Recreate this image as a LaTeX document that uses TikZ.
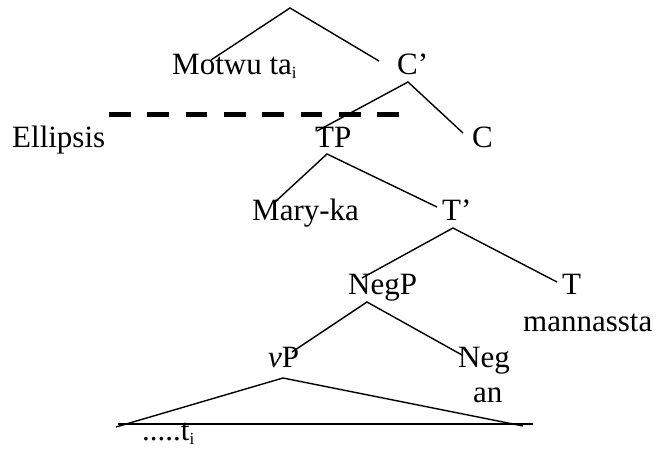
\documentclass[tikz,border=0pt]{standalone}
\usepackage{fontspec}
\setmainfont{Liberation Serif}
\newcommand{\subidx}{\raisebox{-4pt}{\fontsize{17}{17}\selectfont i}}
\begin{document}
\begin{tikzpicture}[x=1pt,y=-1pt,
  lbl/.style={anchor=base west,inner sep=0pt,font=\fontsize{31}{36}\selectfont},
  br/.style={line width=1.4pt},
  ellip/.style={line width=5pt,dash pattern=on 21.7pt off 16.6pt}]
\useasboundingbox (0,0) rectangle (657,449);
% labels
\node[lbl] (motwu) at (172,75) {Motwu ta\subidx};
\node[lbl] (cbarlbl) at (397,75) {C’};
\node[lbl] (ellipsis) at (12,148) {Ellipsis};
\node[lbl] (tplbl) at (315,148) {TP};
\node[lbl] (clbl) at (472,148) {C};
\node[lbl] (mary) at (252,221) {Mary-ka};
\node[lbl] (tbarlbl) at (442,221) {T’};
\node[lbl] (negplbl) at (348,295) {NegP};
\node[lbl] (tlbl) at (562,295) {T};
\node[lbl] (mann) at (523,332) {mannassta};
\node[lbl] (vplbl) at (268,368) {\textit{v}P};
\node[lbl] (neglbl) at (458,368) {Neg};
\node[lbl] (an) at (473,403) {an};
\node[lbl] (trace) at (142,441) {.....t\subidx};
% branch points
\coordinate (root) at (290,8);
\coordinate (rootl) at (211,60);
\coordinate (rootr) at (379,61);
\coordinate (cbar) at (408,82);
\coordinate (cbarl) at (317,131);
\coordinate (cbarr) at (463,133);
\coordinate (tp) at (327,154);
\coordinate (tpl) at (275,202);
\coordinate (tpr) at (437,207);
\coordinate (tbar) at (453,228);
\coordinate (tbarl) at (362,278);
\coordinate (tbarr) at (557,282);
\coordinate (negp) at (367,302);
\coordinate (negpl) at (292,352);
\coordinate (negpr) at (462,355);
\coordinate (vp) at (283,378);
\coordinate (tril) at (116,427);
\coordinate (trir) at (523,426);
\coordinate (basel) at (118,424);
\coordinate (baser) at (533,424);
\coordinate (dashl) at (109,115);
\coordinate (dashr) at (399,115);
% branches
\draw[br] (rootl) -- (root) -- (rootr);
\draw[br] (cbarl) -- (cbar) -- (cbarr);
\draw[br] (tpl) -- (tp) -- (tpr);
\draw[br] (tbarl) -- (tbar) -- (tbarr);
\draw[br] (negpl) -- (negp) -- (negpr);
\draw[br] (tril) -- (vp) -- (trir);
\draw[br] (basel) -- (baser);
\draw[ellip] (dashl) -- (dashr);
\end{tikzpicture}
\end{document}
